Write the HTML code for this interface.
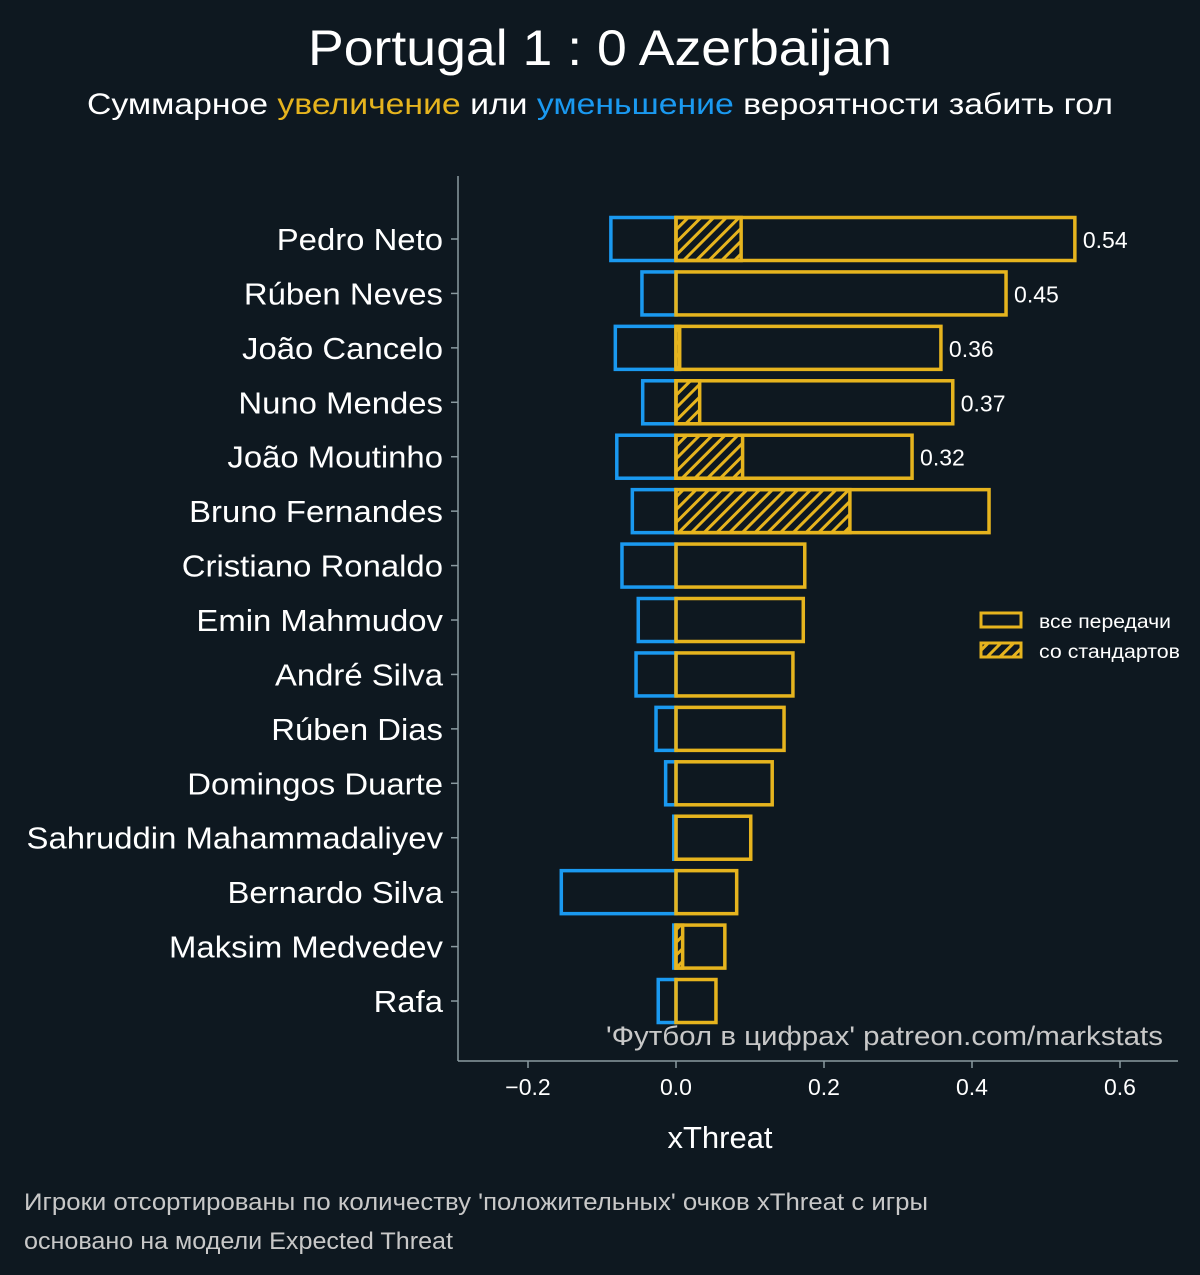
<!DOCTYPE html>
<html><head><meta charset="utf-8"><style>
body{margin:0;background:#0e1820;}
svg{display:block;font-family:"Liberation Sans",sans-serif;}
</style></head><body>
<svg id="c" width="1200" height="1275" xmlns="http://www.w3.org/2000/svg">
<defs>
<pattern id="hatch" patternUnits="userSpaceOnUse" width="9" height="9" patternTransform="rotate(45)">
<rect width="9" height="9" fill="#0e1820"/><rect x="0" y="0" width="3" height="9" fill="#e6b41e"/>
</pattern>
</defs>
<rect width="1200" height="1275" fill="#0e1820"/>
<text x="308" y="65" textLength="584" lengthAdjust="spacingAndGlyphs" font-size="50" fill="#fff">Portugal 1 : 0 Azerbaijan</text>
<text x="87" y="114" textLength="1026" lengthAdjust="spacingAndGlyphs" font-size="30" fill="#fff">Суммарное <tspan fill="#e6b41e">увеличение</tspan> или <tspan fill="#1a99f0">уменьшение</tspan> вероятности забить гол</text>
<g id="plot"></g>
<line x1="458" y1="176" x2="458" y2="1061" stroke="#8a9aa0" stroke-width="1.5"/>
<line x1="458" y1="1061" x2="1178" y2="1061" stroke="#8a9aa0" stroke-width="1.5"/>
<text x="720" y="1148" text-anchor="middle" font-size="31" fill="#fff">xThreat</text>
<text x="606" y="1045" textLength="557" lengthAdjust="spacingAndGlyphs" font-size="27" fill="#c8c8c8">'Футбол в цифрах' patreon.com/markstats</text>
<g>
<rect x="981" y="613" width="40" height="14" fill="none" stroke="#e6b41e" stroke-width="3"/>
<text x="1039" y="628" textLength="132" lengthAdjust="spacingAndGlyphs" font-size="19" fill="#fff">все передачи</text>
<rect x="981" y="643" width="40" height="14" fill="url(#hatch)" stroke="#e6b41e" stroke-width="3"/>
<text x="1039" y="658" textLength="141" lengthAdjust="spacingAndGlyphs" font-size="19" fill="#fff">со стандартов</text>
</g>
<text x="24" y="1210" textLength="904" lengthAdjust="spacingAndGlyphs" font-size="24" fill="#c8c8c8">Игроки отсортированы по количеству 'положительных' очков xThreat с игры</text>
<text x="24" y="1249" textLength="429" lengthAdjust="spacingAndGlyphs" font-size="24" fill="#c8c8c8">основано на модели Expected Threat</text>
</svg>
<script>
const players=["Pedro Neto","Rúben Neves","João Cancelo","Nuno Mendes","João Moutinho","Bruno Fernandes","Cristiano Ronaldo","Emin Mahmudov","André Silva","Rúben Dias","Domingos Duarte","Sahruddin Mahammadaliyev","Bernardo Silva","Maksim Medvedev","Rafa"];
const positive=[0.539,0.446,0.358,0.374,0.319,0.423,0.174,0.172,0.158,0.146,0.130,0.101,0.082,0.066,0.054];
const negative=[-0.088,-0.046,-0.082,-0.045,-0.080,-0.059,-0.073,-0.051,-0.054,-0.027,-0.014,-0.003,-0.155,-0.003,-0.024];
const setPiece=[0.088,0,0.005,0.032,0.090,0.235,0,0,0,0,0,0,0,0.009,0];
const valueLabels=["0.54","0.45","0.36","0.37","0.32"];
const xTicks=[-0.2,0.0,0.2,0.4,0.6];
const xTickLabels=["−0.2","0.0","0.2","0.4","0.6"];

const NS="http://www.w3.org/2000/svg";
const g=document.getElementById('plot');
const x=v=>676+v*740;
const y=i=>239+i*54.43;
const BH=43;
function mk(t,a){const e=document.createElementNS(NS,t);for(const k in a)e.setAttribute(k,a[k]);g.appendChild(e);return e;}
players.forEach((p,i)=>{
  const cy=y(i);
  let t=mk('text',{x:443,y:cy+11,'text-anchor':'end','font-size':31,fill:'#fff'});
  t.textContent=p;
  
  
  const w=t.getComputedTextLength();
  t.setAttribute('textLength',w*1.06);
  t.setAttribute('lengthAdjust','spacingAndGlyphs');
  let tk=mk('line',{x1:451,x2:458,y1:cy,y2:cy,stroke:'#8a9aa0','stroke-width':1.5});
  
  
  let n=mk('rect',{x:x(negative[i]),y:cy-BH/2,width:x(0)-x(negative[i]),height:BH,fill:'none',stroke:'#1a99f0','stroke-width':3.5});
  
  
  if(setPiece[i]>0){
    let h=mk('rect',{x:x(0),y:cy-BH/2,width:x(setPiece[i])-x(0),height:BH,fill:'url(#hatch)',stroke:'#e6b41e','stroke-width':3.5});
    
    
  }
  let b=mk('rect',{x:x(0),y:cy-BH/2,width:x(positive[i])-x(0),height:BH,fill:'none',stroke:'#e6b41e','stroke-width':3.5});
  
  
  if(valueLabels[i]){
    let v=mk('text',{x:x(positive[i])+8,y:cy+9,'font-size':23,fill:'#fff'});
    v.textContent=valueLabels[i];
    
    
  }
});
xTicks.forEach((v,i)=>{
  let l=mk('line',{x1:x(v),x2:x(v),y1:1061,y2:1068,stroke:'#8a9aa0','stroke-width':1.5});
  
  
  let t=mk('text',{x:x(v),y:1095,'text-anchor':'middle','font-size':23,fill:'#fff'});
  t.textContent=xTickLabels[i];
  
  
});
</script>
</body></html>
